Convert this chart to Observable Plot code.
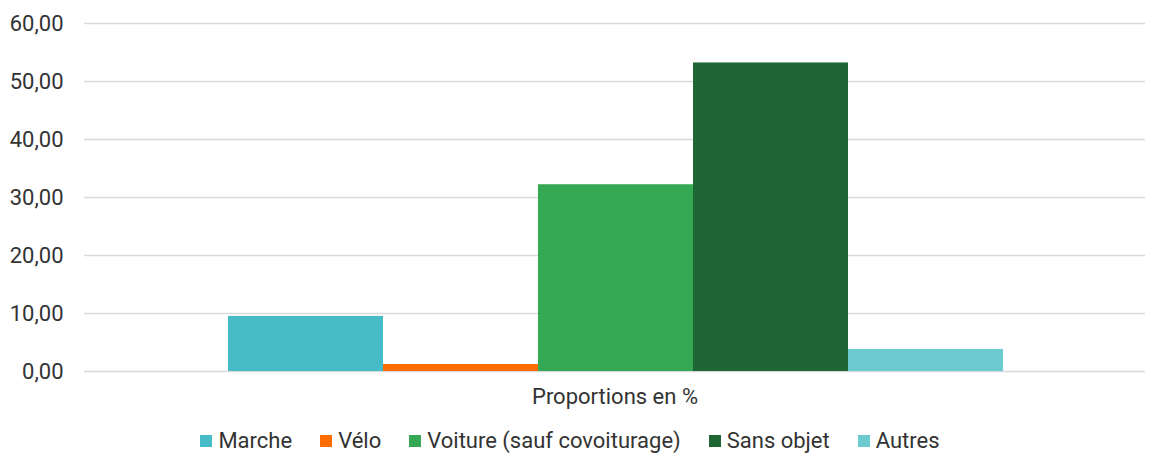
<!DOCTYPE html>
<html>
<head>
<meta charset="utf-8">
<script src="https://cdn.jsdelivr.net/npm/d3@7"></script>
<script src="https://cdn.jsdelivr.net/npm/@observablehq/plot@0.6"></script>
<style>
  body { margin: 0; background: #fff; font-family: Roboto, sans-serif; }
  #legend { display: flex; justify-content: center; align-items: center; margin-top: 8px; line-height: 26px; font-size: 22px; color: #333; padding-right: 12px; }
  .item { display: flex; align-items: center; margin: 0 14px; }
  .sw { width: 12px; height: 12px; margin-right: 6px; }
</style>
</head>
<body>
<div id="chart"></div>
<div id="legend"></div>
<script>
const category = ["Proportions en %"];
const series = ["Marche", "Vélo", "Voiture (sauf covoiturage)", "Sans objet", "Autres"];
const values = [9.5, 1.2, 32.2, 53.2, 3.8];
const colors = ["#47bcc6", "#ff6d00", "#34a853", "#1e6634", "#6ccad1"];
const yTicks = [0, 10, 20, 30, 40, 50, 60];

const data = series.map((s, i) => ({series: s, value: values[i], category: category[0]}));
const fr = d3.formatLocale({decimal: ",", thousands: " ", grouping: [3], currency: ["", " €"]});
const fmt = fr.format(".2f");

const chart = Plot.plot({
  width: 1152,
  height: 420,
  marginLeft: 84,
  marginRight: 7,
  marginTop: 23,
  marginBottom: 49,
  style: {fontFamily: "Roboto, sans-serif", fontSize: "22px", color: "#333", background: "#fff"},
  x: {type: "band", domain: series, range: [226, 1004], padding: 0, axis: null},
  y: {domain: [0, 60], ticks: yTicks, tickFormat: fmt, label: null, tickSize: 0, tickPadding: 21},
  color: {domain: series, range: colors},
  marks: [
    Plot.ruleY(yTicks, {stroke: "#d9d9d9", strokeWidth: 1.5}),
    Plot.barY(data, {x: "series", y: "value", fill: "series", inset: 0}),
    Plot.text(category, {text: d => d, frameAnchor: "bottom", dy: 32, fontSize: 22, fill: "#333"})
  ]
});
document.getElementById("chart").appendChild(chart);

const colorScale = chart.scale("color");
const legend = document.getElementById("legend");
series.forEach((s, i) => {
  const item = document.createElement("div");
  item.className = "item";
  const sw = document.createElement("div");
  sw.className = "sw";
  sw.style.background = colorScale.range[i];
  const t = document.createElement("span");
  t.textContent = s;
  item.appendChild(sw);
  item.appendChild(t);
  legend.appendChild(item);
});
</script>
</body>
</html>
